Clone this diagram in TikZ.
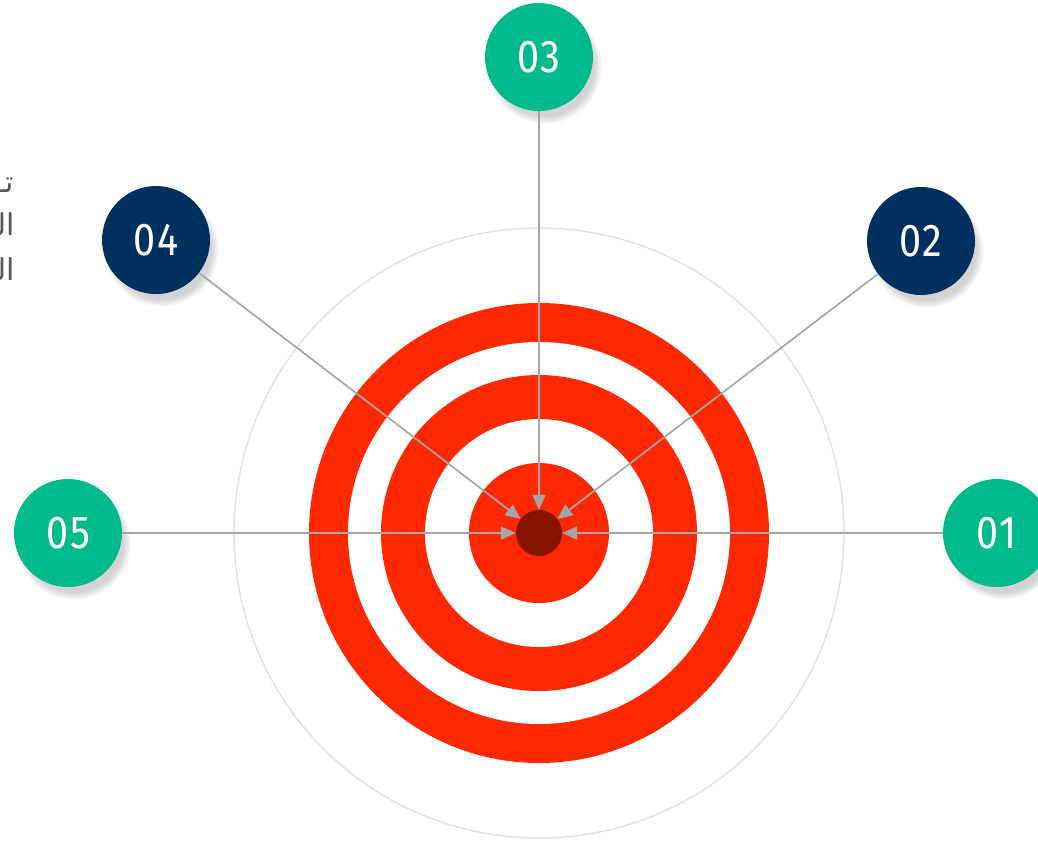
\documentclass[tikz,border=0pt]{standalone}
\usepackage{fontspec}
\setmainfont{Fira Sans}
\newfontfamily\numfont[FakeStretch=0.86,LetterSpace=4]{Fira Sans}
\newfontfamily\arabicfont[Script=Arabic]{DejaVu Sans}
\TeXXeTstate=1
\usetikzlibrary{arrows.meta}
\definecolor{tgreen}{RGB}{0,186,140}
\definecolor{tnavy}{RGB}{0,48,94}
\definecolor{tred}{RGB}{255,40,0}
\definecolor{tdark}{RGB}{134,20,0}
\definecolor{lgrey}{RGB}{166,166,166}
\definecolor{ringgrey}{RGB}{226,226,226}
\definecolor{txtgrey}{RGB}{85,88,90}
\newcommand\bshadow[2]{%
  \foreach \k in {0,...,11}{%
    \fill[black,opacity=0.014] (#1+6,#2+10) circle ({57-\k*0.7});}}
\begin{document}
\begin{tikzpicture}[x=1pt,y=-1pt,
  badge/.style={circle, minimum size=108pt, inner sep=0pt, text=white,
    font=\numfont\fontsize{46}{46}\selectfont},
  conn/.style={draw=lgrey, line width=1.7pt, -{Triangle[length=15pt,width=13pt]}},
  ar/.style={anchor=base east, inner sep=0pt, text=txtgrey, font=\arabicfont\fontsize{30}{30}\selectfont}]
\useasboundingbox (0,0) rectangle (1038,841);
\clip (0,0) rectangle (1038,841);
% Arabic text (cut at left edge)
\node[ar] (t1) at (14,192) {\beginR تــــ\endR};
\node[ar] (t2) at (15,235) {\beginR الــ\endR};
\node[ar] (t3) at (15,280) {\beginR الــ\endR};
% target
\draw[ringgrey, line width=1.5pt] (539,533) circle (305);
\fill[tred] (539,533) circle (230);
\fill[white] (539,533) circle (191);
\fill[tred] (539,533) circle (158);
\fill[white] (539,533) circle (114);
\fill[tred] (539,533) circle (70);
\node[circle, fill=tdark, minimum size=46pt, inner sep=0pt] (dot) at (539,533) {};
% shadows
\bshadow{539}{57}
\bshadow{156}{240}
\bshadow{921}{241}
\bshadow{68}{533}
\bshadow{997}{533}
% badges
\node[badge, fill=tgreen] (n3) at (539,57) {03};
\node[badge, fill=tnavy] (n4) at (156,240) {04};
\node[badge, fill=tnavy] (n2) at (921,241) {02};
\node[badge, fill=tgreen] (n5) at (68,533) {05};
\node[badge, fill=tgreen] (n1) at (997,533) {01};
% connectors
\draw[conn] (n1) -- (dot);
\draw[conn] (n2) -- (dot);
\draw[conn] (n3) -- (dot);
\draw[conn] (n4) -- (dot);
\draw[conn] (n5) -- (dot);
\end{tikzpicture}
\end{document}
